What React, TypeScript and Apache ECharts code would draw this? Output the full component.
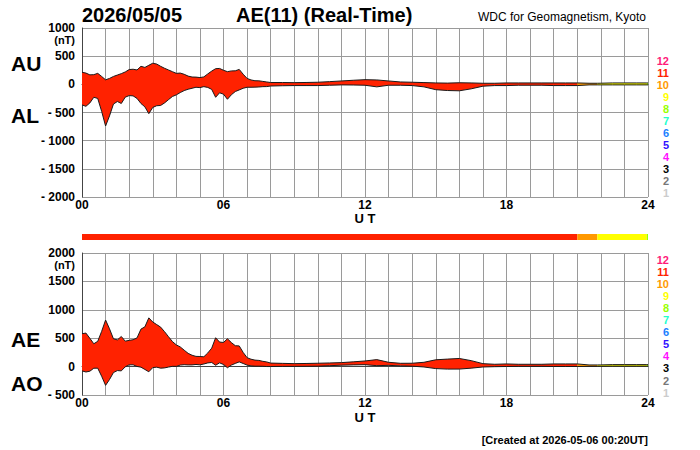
import React, { useEffect, useRef } from "react";
import * as echarts from "echarts";

// time of each sample, minutes after 00 UT
const minutes = [
  0, 10, 20, 30, 40, 50, 60, 70, 80, 90, 100, 110, 120, 130, 140, 150, 160, 170, 180, 190,
  200, 210, 220, 230, 240, 250, 260, 270, 280, 290, 300, 310, 320, 330, 340, 350, 360, 370, 380, 390,
  400, 410, 420, 430, 440, 450, 460, 470, 480,
  510, 540, 570, 600, 630, 660, 690, 720, 750, 780, 810, 840, 870, 900, 930, 960, 990, 1020, 1050,
  1080, 1110, 1140, 1170, 1200, 1230, 1260, 1290,
  1311, 1320, 1350, 1380, 1410, 1437, 1440,
];

// AU index (nT)
const auValues = [
  214, 200, 168, 172, 195, 140, 80, 105, 140, 165, 190, 220, 262, 268, 255, 320, 300, 338, 375, 360,
  320, 285, 255, 225, 195, 200, 178, 146, 130, 128, 120, 132, 185, 235, 278, 282, 250, 225, 238, 240,
  265, 180, 105, 78, 64, 62, 52, 42, 32,
  32, 30, 33, 37, 48, 60, 72, 83, 78, 60, 42, 37, 31, 25, 22, 28, 25, 19, 19,
  25, 25, 25, 25, 25, 25, 25, 19,
  19, 20, 25, 25, 25, 25, 25,
];

// AL index (nT)
const alValues = [
  -365, -390, -330, -230, -250, -480, -740, -560, -350, -305, -340, -228, -200, -205, -250, -340, -400, -520, -410, -380,
  -375, -330, -272, -216, -187, -146, -111, -87, -70, -52, -58, -41, -55, -90, -230, -150, -175, -265, -185, -128,
  -99, -70, -52, -52, -50, -47, -41, -40, -30,
  -25, -22, -22, -22, -16, -10, -12, -16, -45, -16, -16, -22, -45, -95, -110, -115, -80, -33, -22,
  -22, -16, -16, -16, -22, -22, -22, -10,
  -10, -10, -10, -10, -10, -10, -10,
];

// number of contributing stations: [start minute, end minute, count]
const stationSegments = [
  [0, 1260, 11],
  [1260, 1311, 10],
  [1311, 1437, 9],
  [1437, 1440, 8],
];

const stationCounts = [12, 11, 10, 9, 8, 7, 6, 5, 4, 3, 2, 1];
const stationColors: Record<number, string> = {
  12: "#ff1a78",
  11: "#ff2200",
  10: "#ff9900",
  9: "#ffff00",
  8: "#99ff00",
  7: "#22ffcc",
  6: "#1a80ff",
  5: "#3311ff",
  4: "#ff11ff",
  3: "#000000",
  2: "#777777",
  1: "#cccccc",
};

const hourTicks = ["00", "06", "12", "18", "24"];

// derived indices
const aeValues = auValues.map((u, i) => u - alValues[i]);
const aoValues = auValues.map((u, i) => (u + alValues[i]) / 2);

const FONT = '"Liberation Sans", Arial, Helvetica, sans-serif';

function areaRenderer(upper: number[], lower: number[]) {
  return (params: any, api: any) => {
    const start = api.value(0);
    const end = api.value(1);
    const count = api.value(2);
    const pts: number[][] = [];
    for (let i = 0; i < minutes.length; i++) {
      if (minutes[i] >= start && minutes[i] <= end) pts.push(api.coord([minutes[i], upper[i]]));
    }
    for (let i = minutes.length - 1; i >= 0; i--) {
      if (minutes[i] >= start && minutes[i] <= end) pts.push(api.coord([minutes[i], lower[i]]));
    }
    return {
      type: "polygon",
      shape: { points: pts },
      style: { fill: stationColors[count], stroke: null },
    };
  };
}

function barRenderer(params: any, api: any) {
  const start = api.value(0);
  const end = api.value(1);
  const count = api.value(2);
  const p0 = api.coord([start, 12]);
  const p1 = api.coord([end, 0]);
  return {
    type: "rect",
    shape: { x: p0[0], y: p0[1], width: p1[0] - p0[0], height: p1[1] - p0[1] },
    style: { fill: stationColors[count] },
  };
}

function xAxis(gridIndex: number, show: boolean) {
  return {
    type: "value",
    gridIndex,
    min: 0,
    max: 1440,
    interval: 60,
    show,
    axisLine: { show: true, lineStyle: { color: "#444", width: 1 } },
    axisTick: { show: false },
    splitLine: { show: true, lineStyle: { color: "#9a9a9a", width: 1 } },
    axisLabel: {
      show: true,
      margin: 2,
      color: "#000",
      fontFamily: FONT,
      fontWeight: "bold",
      fontSize: 12,
      formatter: (v: number) => (v % 360 === 0 ? hourTicks[v / 360] : ""),
    },
  };
}

function yAxis(gridIndex: number, min: number, max: number) {
  return {
    type: "value",
    gridIndex,
    min,
    max,
    interval: 500,
    axisLine: { show: true, lineStyle: { color: "#444", width: 1 } },
    axisTick: { show: false },
    splitLine: { show: true, lineStyle: { color: "#9a9a9a", width: 1 } },
    axisLabel: {
      margin: 7,
      color: "#000",
      fontFamily: FONT,
      fontWeight: "bold",
      fontSize: 12,
      formatter: (v: number) => (v < 0 ? "- " + -v : String(v)),
    },
  };
}

function lineSeries(xi: number, yi: number, vals: number[]) {
  return {
    type: "line",
    xAxisIndex: xi,
    yAxisIndex: yi,
    data: minutes.map((m, i) => [m, vals[i]]),
    showSymbol: false,
    symbol: "none",
    lineStyle: { color: "#1a1a1a", width: 1 },
    silent: true,
    z: 3,
  };
}

function legendTexts(y0: number, step: number) {
  return stationCounts.map((c, i) => ({
    type: "text",
    x: 669,
    y: y0 + i * step,
    style: {
      text: String(c),
      fill: stationColors[c],
      font: `bold 11px ${FONT}`,
      textAlign: "right",
      textVerticalAlign: "middle",
    },
  }));
}

function label(text: string, x: number, y: number, size: number, align = "left", weight = "bold") {
  return {
    type: "text",
    x,
    y,
    style: {
      text,
      fill: "#000",
      font: `${weight} ${size}px ${FONT}`,
      textAlign: align,
      textVerticalAlign: "middle",
    },
  };
}

export default function App() {
  const ref = useRef<HTMLDivElement>(null);
  useEffect(() => {
    document.body.style.margin = "0";
    if (!ref.current) return;
    const chart = echarts.init(ref.current, undefined, { renderer: "svg" });
    chart.setOption({
      animation: false,
      backgroundColor: "#fff",
      grid: [
        { left: 82, top: 28, width: 566, height: 169 },
        { left: 82, top: 253, width: 566, height: 142 },
        { left: 82, top: 234, width: 566, height: 6 },
      ],
      xAxis: [
        xAxis(0, true),
        xAxis(1, true),
        { type: "value", gridIndex: 2, min: 0, max: 1440, show: false },
      ],
      yAxis: [
        yAxis(0, -2000, 1000),
        yAxis(1, -500, 2000),
        { type: "value", gridIndex: 2, min: 0, max: 12, show: false },
      ],
      series: [
        {
          type: "custom",
          xAxisIndex: 0,
          yAxisIndex: 0,
          renderItem: areaRenderer(auValues, alValues),
          data: stationSegments,
          encode: { x: [0, 1], y: 2 },
          silent: true,
          z: 2,
        },
        lineSeries(0, 0, auValues),
        lineSeries(0, 0, alValues),
        {
          type: "custom",
          xAxisIndex: 1,
          yAxisIndex: 1,
          renderItem: areaRenderer(aeValues, aoValues),
          data: stationSegments,
          encode: { x: [0, 1], y: 2 },
          silent: true,
          z: 2,
        },
        lineSeries(1, 1, aeValues),
        lineSeries(1, 1, aoValues),
        {
          type: "custom",
          xAxisIndex: 2,
          yAxisIndex: 2,
          renderItem: barRenderer,
          data: stationSegments,
          encode: { x: [0, 1], y: 2 },
          silent: true,
        },
      ],
      graphic: [
        label("2026/05/05", 82, 15, 20),
        label("AE(11) (Real-Time)", 236, 15, 20),
        label("WDC for Geomagnetism, Kyoto", 646, 17, 12, "right", "normal"),
        label("(nT)", 75, 40, 11, "right"),
        label("AU", 11, 63, 21),
        label("AL", 11, 115, 21),
        label("U T", 365, 218, 13, "center"),
        label("(nT)", 75, 265, 11, "right"),
        label("AE", 11, 339, 21),
        label("AO", 11, 383, 21),
        label("U T", 365, 417, 13, "center"),
        label("[Created at 2026-05-06 00:20UT]", 648, 440, 11, "right"),
        ...legendTexts(61, 12),
        ...legendTexts(259.5, 12.1),
      ],
    });
    return () => chart.dispose();
  }, []);
  return <div ref={ref} style={{ width: 700, height: 450 }} />;
}
